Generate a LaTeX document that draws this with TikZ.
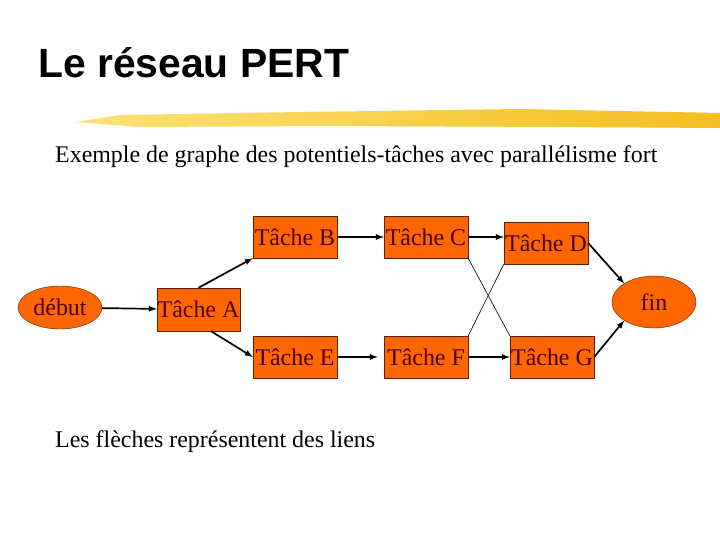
\documentclass[tikz,border=0pt]{standalone}
\usepackage{fontspec}
\setmainfont{Liberation Serif}
\newfontfamily\titrefont{Liberation Sans}
\usetikzlibrary{shapes.geometric}
\definecolor{orangeP}{RGB}{255,102,0}
\definecolor{bordP}{RGB}{90,30,0}
\definecolor{texteP}{RGB}{70,0,0}
\definecolor{jauneA}{RGB}{252,226,120}
\definecolor{jauneB}{RGB}{244,190,30}

\begin{document}
\begin{tikzpicture}[x=1bp,y=-1bp,>=latex,
  tache/.style={draw=bordP,fill=orangeP,text=texteP,
    minimum width=84bp,minimum height=42bp,inner sep=0pt,
    font=\fontsize{24}{28}\selectfont},
  evenement/.style={ellipse,draw=bordP,fill=orangeP,text=texteP,
    minimum width=84bp,inner sep=0pt,
    font=\fontsize{24}{28}\selectfont},
  lien/.style={->,line width=1.7bp},
  croise/.style={line width=0.6bp}]

\useasboundingbox (0,0) rectangle (720,540);

% titre et trait de pinceau
\node[anchor=base west,inner sep=0pt,font=\titrefont\bfseries\fontsize{41}{48}\selectfont]
(titre)
at (38,78)
{Le réseau PERT};

\shade[left color=jauneA,right color=jauneB]
(75,122) -- (120,115) -- (300,112) -- (520,109) -- (720,113)
-- (720,128) -- (560,127) -- (330,126) -- (140,127) -- cycle;

\node[anchor=base west,inner sep=0pt,font=\fontsize{24}{28}\selectfont]
(sous)
at (55,163)
{Exemple de graphe des potentiels-tâches avec parallélisme fort};

% les noeuds
\node[evenement,minimum height=43bp]
(debut)
at (60,307.5)
{début};

\node[tache,minimum width=83bp,minimum height=43bp]
(A)
at (198.5,309.5)
{Tâche A};

\node[tache]
(B)
at (295,237)
{Tâche B};

\node[tache]
(C)
at (426,237)
{Tâche C};

\node[tache]
(D)
at (546,243)
{Tâche D};

\node[tache]
(E)
at (295,357)
{Tâche E};

\node[tache]
(F)
at (426,357)
{Tâche F};

\node[tache]
(G)
at (552,357)
{Tâche G};

\node[evenement,minimum height=52bp]
(fin)
at (654,302)
{fin};

% les liens
\draw[lien]
(debut)
--
(A);

\draw[lien]
(A.north)
--
(B.south west);

\draw[lien]
(A.-60)
--
(E.west);

\draw[lien]
(B)
--
(C);

\draw[lien,shorten >=6bp]
(E)
--
(F);

\draw[lien]
(C.east)
--
(D.west |- C.east);

\draw[lien]
(F.east)
--
(G.west);

\draw[lien]
(D.east)
--
(fin.north west);

\draw[lien]
(G.east)
--
(fin.south west);

\draw[croise]
(C.south east)
--
(G.north west);

\draw[croise]
(F.north east)
--
(D.south west);

\node[anchor=base west,inner sep=0pt,font=\fontsize{24}{28}\selectfont]
(legende)
at (55,447)
{Les flèches représentent des liens};

\end{tikzpicture}
\end{document}
